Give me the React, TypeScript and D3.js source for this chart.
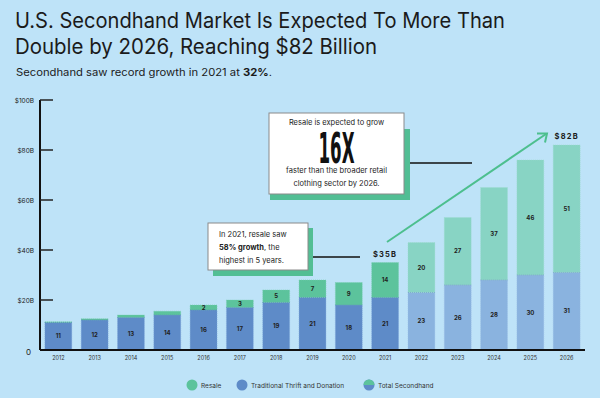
import React from 'react'
import * as d3 from 'd3'

const years = ['2012', '2013', '2014', '2015', '2016', '2017', '2018', '2019', '2020', '2021', '2022', '2023', '2024', '2025', '2026']
const traditional = [11, 12, 13, 14, 16, 17, 19, 21, 18, 21, 23, 26, 28, 30, 31]
const resale = [0.3, 0.5, 1, 1.5, 2, 3, 5, 7, 9, 14, 20, 27, 37, 46, 51]
const forecastYears = ['2022', '2023', '2024', '2025', '2026']
const yTicks = [0, 20, 40, 60, 80, 100]
const totalCallouts = [
  { year: '2021', label: '$35B' },
  { year: '2026', label: '$82B' },
]
const legendItems = ['Resale', 'Traditional Thrift and Donation', 'Total Secondhand']

const W = 600
const H = 398
const BG = '#BEE3F8'
const GREEN = '#5CC39C'
const BLUE = '#5E8BC8'
const GREEN_F = '#88D4C4'
const BLUE_F = '#8AB3DF'
const FONT = 'Inter, "Noto Sans", sans-serif'

const App = () => {
  const x = d3.scaleBand().domain(years).range([40, 585]).paddingInner(0.26).paddingOuter(0.135)
  const y = d3.scaleLinear().domain([0, 100]).range([350, 100])
  const bw = x.bandwidth()

  const rows = years.map((yr, i) => ({
    year: yr,
    trad: traditional[i],
    resale: resale[i],
    forecast: forecastYears.includes(yr),
  }))

  const tickLabel = (v: number) => (v === 0 ? '0' : `$${v}B`)
  const legendX = [192, 242, 369]

  return (
    <svg width={W} height={H} style={{ position: 'absolute', left: 0, top: 0 }} fontFamily={FONT}>
      <defs>
        <clipPath id="topHalf">
          <rect x={363} y={379} width={12} height={6} />
        </clipPath>
      </defs>
      <rect width={W} height={H} fill={BG} />

      {/* title */}
      <text x={15} y={28} fontSize={21} fill="#1b1b1b" fontWeight={400} textLength={490} lengthAdjust="spacingAndGlyphs">
        U.S. Secondhand Market Is Expected To More Than
      </text>
      <text x={15} y={54} fontSize={21} fill="#1b1b1b" fontWeight={400} textLength={362} lengthAdjust="spacingAndGlyphs">
        Double by 2026, Reaching $82 Billion
      </text>
      <text x={16} y={76} fontSize={10.5} fill="#1b1b1b" textLength={256} lengthAdjust="spacingAndGlyphs">
        Secondhand saw record growth in 2021 at <tspan fontWeight={700}>32%</tspan>.
      </text>

      {/* y axis */}
      <line x1={40} x2={40} y1={y(100)} y2={y(0)} stroke="#111" strokeWidth={2} />
      {yTicks.map((t) => (
        <g key={t}>
          {t > 0 && <line x1={40} x2={53} y1={y(t)} y2={y(t)} stroke="#222" strokeWidth={1.5} />}
          <text x={t === 0 ? 31 : 34} y={y(t) + (t === 0 ? 5 : 2.5)} fontSize={t === 0 ? 8 : 6.5} textAnchor="end" fill="#222">
            {tickLabel(t)}
          </text>
        </g>
      ))}

      {/* bars */}
      {rows.map((d) => {
        const x0 = x(d.year) as number
        const yT = y(d.trad)
        const yR = y(d.trad + d.resale)
        return (
          <g key={d.year}>
            <rect x={x0} y={yT} width={bw} height={y(0) - yT} fill={d.forecast ? BLUE_F : BLUE}
              stroke={d.forecast ? '#9CC0E6' : '#7AA3D8'} strokeWidth={0.6} strokeDasharray="1,1" />
            <rect x={x0} y={yR} width={bw} height={yT - yR} fill={d.forecast ? GREEN_F : GREEN}
              stroke={d.forecast ? '#9CDCCD' : '#74CFAC'} strokeWidth={0.6} strokeDasharray="1,1" />
            <line x1={x0} x2={x0 + bw} y1={yT} y2={yT} stroke={d.forecast ? '#6F95C6' : '#4F7DB8'} strokeWidth={0.6} strokeDasharray="1,1" />
            <text x={x0 + bw / 2} y={(yT + y(0)) / 2 + 2} fontSize={6} fontWeight={700} textAnchor="middle" fill="#222">
              {d.trad}
            </text>
            {d.resale >= 2 && (
              <text x={x0 + bw / 2} y={(yT + yR) / 2 + 2} fontSize={6} fontWeight={700} textAnchor="middle" fill="#222">
                {d.resale}
              </text>
            )}
            <text x={x0 + bw / 2} y={360} fontSize={5.5} textAnchor="middle" fill="#333">
              {d.year}
            </text>
          </g>
        )
      })}
      <line x1={40} x2={585} y1={y(0)} y2={y(0)} stroke="#111" strokeWidth={2} />

      {totalCallouts.map((c) => {
        const i = years.indexOf(c.year)
        const total = traditional[i] + resale[i]
        return (
          <text key={c.year} x={(x(c.year) as number) + bw / 2} y={y(total) - 6} fontSize={7.5} fontWeight={700}
            textAnchor="middle" fill="#1b1b1b" letterSpacing={1.2}>
            {c.label}
          </text>
        )
      })}

      {/* growth arrow */}
      <line x1={387} y1={242} x2={546} y2={134} stroke="#4DBF8E" strokeWidth={2} />
      <polyline points="537,133.5 547,133.5 545,142.5" fill="none" stroke="#4DBF8E" strokeWidth={2} />

      {/* 16X callout */}
      <line x1={404} x2={472} y1={163} y2={163} stroke="#111" strokeWidth={1.5} />
      <rect x={270} y={129} width={140} height={71} fill="#52BE94" />
      <rect x={269} y={113} width={135} height={81} fill="#fff" stroke="#8a8a8a" strokeWidth={1} />
      <text x={336.5} y={125} fontSize={7.5} textAnchor="middle" fill="#222">Resale is expected to grow</text>
      <g transform="translate(336.5,162.5) scale(1,1.55)">
        <text x={0} y={0} fontSize={27} fontWeight={700} textAnchor="middle" fill="#111"
          fontFamily='"Liberation Sans Narrow", "DejaVu Sans Condensed", sans-serif' textLength={36} lengthAdjust="spacingAndGlyphs">
          16X
        </text>
      </g>
      <text x={336.5} y={173} fontSize={7.5} textAnchor="middle" fill="#222">faster than the broader retail</text>
      <text x={336.5} y={185.5} fontSize={7.5} textAnchor="middle" fill="#222">clothing sector by 2026.</text>

      {/* 2021 callout */}
      <line x1={308} x2={360} y1={257} y2={257} stroke="#111" strokeWidth={1.5} />
      <rect x={213} y={228} width={100} height={48} fill="#52BE94" />
      <rect x={208} y={223} width={100} height={47} fill="#fff" stroke="#8a8a8a" strokeWidth={1} />
      <text x={219} y={237} fontSize={7.5} fill="#222">In 2021, resale saw</text>
      <text x={219} y={250} fontSize={7.5} fill="#222"><tspan fontWeight={700}>58% growth</tspan>, the</text>
      <text x={219} y={263} fontSize={7.5} fill="#222">highest in 5 years.</text>

      {/* legend */}
      <circle cx={legendX[0]} cy={385} r={5.5} fill={GREEN} />
      <circle cx={legendX[1]} cy={385} r={5.5} fill={BLUE} />
      <circle cx={legendX[2]} cy={385} r={5.5} fill={BLUE} />
      <circle cx={legendX[2]} cy={385} r={5.5} fill={GREEN} clipPath="url(#topHalf)" />
      {legendItems.map((l, i) => (
        <text key={l} x={legendX[i] + 9} y={387.5} fontSize={6.5} fill="#333">{l}</text>
      ))}
    </svg>
  )
}

export default App
